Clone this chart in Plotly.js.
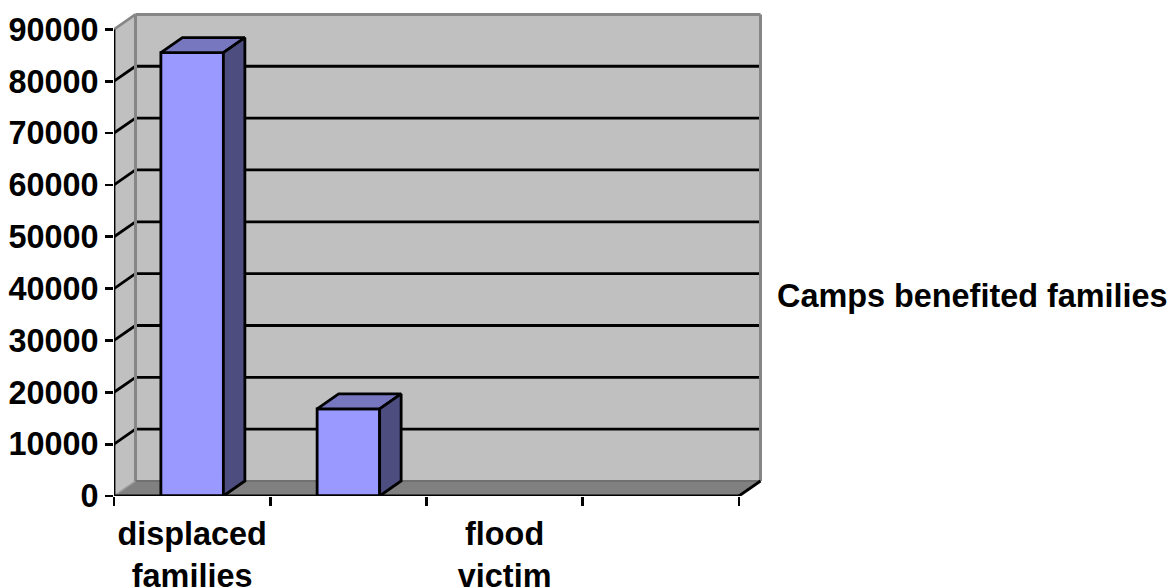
<!DOCTYPE html>
<html>
<head>
<meta charset="utf-8">
<script src="https://cdn.plot.ly/plotly-3.0.1.min.js"></script>
<style>html,body{margin:0;padding:0;background:#fff;overflow:hidden}</style>
</head>
<body>
<div id="chart" style="width:1168px;height:587px"></div>
<script>
// Camps: families benefited, by category
const categories = ["displaced<br>families", "", "flood<br>victim", ""];
const families = [85500, 16800];
const seriesName = "Camps benefited families";
const valueTicks = [0, 10000, 20000, 30000, 40000, 50000, 60000, 70000, 80000, 90000];

// Pseudo-3D box geometry, in axis units
const depthX = 0.1376, depthY = 2890, barWidth = 0.4, wallTop = 90000;
const slots = categories.length;

const poly = pts => "M" + pts.map(p => p[0] + " " + p[1]).join(" L") + " Z";
const seg = (a, b, color, width) => ({
  type: "line", layer: "below", xref: "x", yref: "y",
  x0: a[0], y0: a[1], x1: b[0], y1: b[1],
  line: {color: color, width: width}
});
const face = (path, fill, line) => ({
  type: "path", layer: "below", xref: "x", yref: "y", path: poly(path),
  fillcolor: fill, line: line || {width: 0}
});

const wallGrey = "#C0C0C0", edgeGrey = "#868686", floorGrey = "#808080";
const wallRight = slots + depthX, wallHigh = wallTop + depthY;
const inkWidth = 2.8;

const shapes = [
  face([[0, 0], [depthX, depthY], [depthX, wallHigh], [0, wallTop]], wallGrey),
  face([[depthX, depthY], [wallRight, depthY], [wallRight, wallHigh], [depthX, wallHigh]], wallGrey),
  face([[0, 0], [slots, 0], [wallRight, depthY], [depthX, depthY]], floorGrey)
];
valueTicks.slice(1, -1).forEach(v => {
  shapes.push(seg([0, v], [depthX, v + depthY], "#000", inkWidth));
  shapes.push(seg([depthX, v + depthY], [wallRight, v + depthY], "#000", inkWidth));
});
shapes.push(
  seg([0, wallTop], [depthX, wallHigh], edgeGrey, 2.5),
  seg([depthX, wallHigh], [wallRight, wallHigh], edgeGrey, 3),
  seg([wallRight, wallHigh], [wallRight, depthY], edgeGrey, 3),
  seg([depthX, wallHigh], [depthX, depthY], edgeGrey, 3),
  seg([depthX, depthY], [wallRight, depthY], "#707070", 2),
  seg([0, 0], [depthX, depthY], "#9a9a9a", 1.5),
  seg([slots, 0], [wallRight, depthY], "#000", inkWidth)
);

const barX = families.map((_, i) => i + 0.5);

// Front faces of the columns
const traces = [{
  type: "bar", x: barX, y: families, width: barWidth, name: seriesName,
  marker: {color: "#9999FF", line: {color: "#000", width: inkWidth}},
  hoverinfo: "x+y", showlegend: false
}];

// Top and side faces of each column
families.forEach((v, i) => {
  const l = barX[i] - barWidth / 2, r = barX[i] + barWidth / 2;
  const addFace = (pts, fill) => traces.push({
    type: "scatter", mode: "lines", fill: "toself", fillcolor: fill,
    x: pts.map(p => p[0]), y: pts.map(p => p[1]),
    line: {color: "#000", width: inkWidth, shape: "linear"},
    hoverinfo: "skip", showlegend: false
  });
  addFace([[l, v], [r, v], [r + depthX, v + depthY], [l + depthX, v + depthY], [l, v]], "#7777BF");
  addFace([[r, 0], [r + depthX, depthY], [r + depthX, v + depthY], [r, v], [r, 0]], "#4D4D80");
});

// Axis lines sit on the plot edge, so they must not be clipped
const axisLine = (x, y) => ({
  type: "scatter", mode: "lines", x: x, y: y, cliponaxis: false,
  line: {color: "#000", width: inkWidth}, hoverinfo: "skip", showlegend: false
});
traces.push(axisLine([0, slots], [0, 0]), axisLine([0, 0], [0, wallTop]));

const labelFont = {family: "Liberation Sans, Arial, sans-serif", size: 32.4, color: "#000", weight: "bold"};

const layout = {
  width: 1168, height: 587,
  paper_bgcolor: "#fff", plot_bgcolor: "rgba(0,0,0,0)",
  margin: {l: 114, r: 403, t: 8, b: 90.5},
  bargap: 0,
  showlegend: false,
  xaxis: {
    range: [0, 4.1664], showgrid: false, zeroline: false, showline: false,
    tickmode: "array", tickvals: categories.map((_, i) => i + 0.5), ticktext: categories,
    ticks: "outside", ticklen: 9, tickcolor: "rgba(0,0,0,0)", tickangle: 0,
    tickfont: labelFont,
    minor: {
      tickmode: "array", tickvals: [0, 1, 2, 3, 4],
      ticks: "outside", ticklen: 9, tickwidth: inkWidth, tickcolor: "#000", showgrid: false
    }
  },
  yaxis: {
    range: [0, 94123], showgrid: false, zeroline: false, showline: false,
    tickmode: "array", tickvals: valueTicks, ticktext: valueTicks.map(String),
    ticks: "outside", ticklen: 8, tickwidth: inkWidth, tickcolor: "#000",
    tickfont: labelFont
  },
  shapes: shapes,
  annotations: [{
    xref: "paper", yref: "paper", x: (778 - 114) / (1168 - 114 - 403), y: (496.5 - 296) / 488.5,
    xanchor: "left", yanchor: "middle", showarrow: false, xshift: -3,
    text: seriesName, font: labelFont
  }]
};

Plotly.newPlot("chart", traces, layout, {displayModeBar: false, staticPlot: true});
</script>
</body>
</html>
